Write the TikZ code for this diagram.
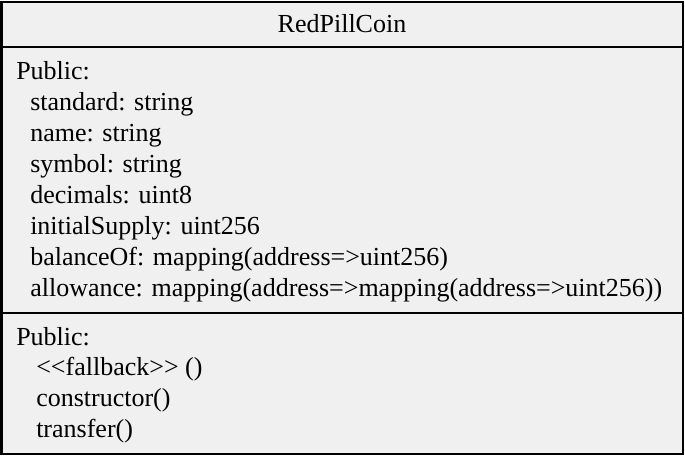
\documentclass[tikz,border=0pt]{standalone}
\usepackage{fontspec}
\setmainfont{Liberation Serif}
\definecolor{boxgray}{HTML}{F0F0F0}
\begin{document}
\begin{tikzpicture}[x=0.75pt,y=-0.75pt,
  txt/.style={anchor=base west,inner sep=0pt,font=\fontsize{19.5}{23}\selectfont},
  frame/.style={draw=black,line width=1.5pt}]
\useasboundingbox (0,0) rectangle (685,455);
\draw[frame,fill=boxgray] (1.5,1.5) rectangle (683,453.5);
\coordinate (l1) at (1.5,46.5);
\coordinate (r1) at (683,46.5);
\coordinate (l2) at (1.5,312.5);
\coordinate (r2) at (683,312.5);
\draw[frame] (l1) -- (r1);
\draw[frame] (l2) -- (r2);
\node[txt,anchor=base] (title) at (342,32) {RedPillCoin};
\node[txt] (p1) at (16,79) {Public:};
\node[txt] (a1) at (30,110) {standard: string};
\node[txt] (a2) at (30,141) {name: string};
\node[txt] (a3) at (30,172) {symbol: string};
\node[txt] (a4) at (30,203) {decimals: uint8};
\node[txt] (a5) at (30,234) {initialSupply: uint256};
\node[txt] (a6) at (30,265) {balanceOf: mapping(address=>uint256)};
\node[txt] (a7) at (30,296) {allowance: mapping(address=>mapping(address=>uint256))};
\node[txt] (p2) at (16,345) {Public:};
\node[txt] (m1) at (36,375) {<{}<fallback>{}> ()};
\node[txt] (m2) at (36,406) {constructor()};
\node[txt] (m3) at (36,437) {transfer()};
\end{tikzpicture}
\end{document}
